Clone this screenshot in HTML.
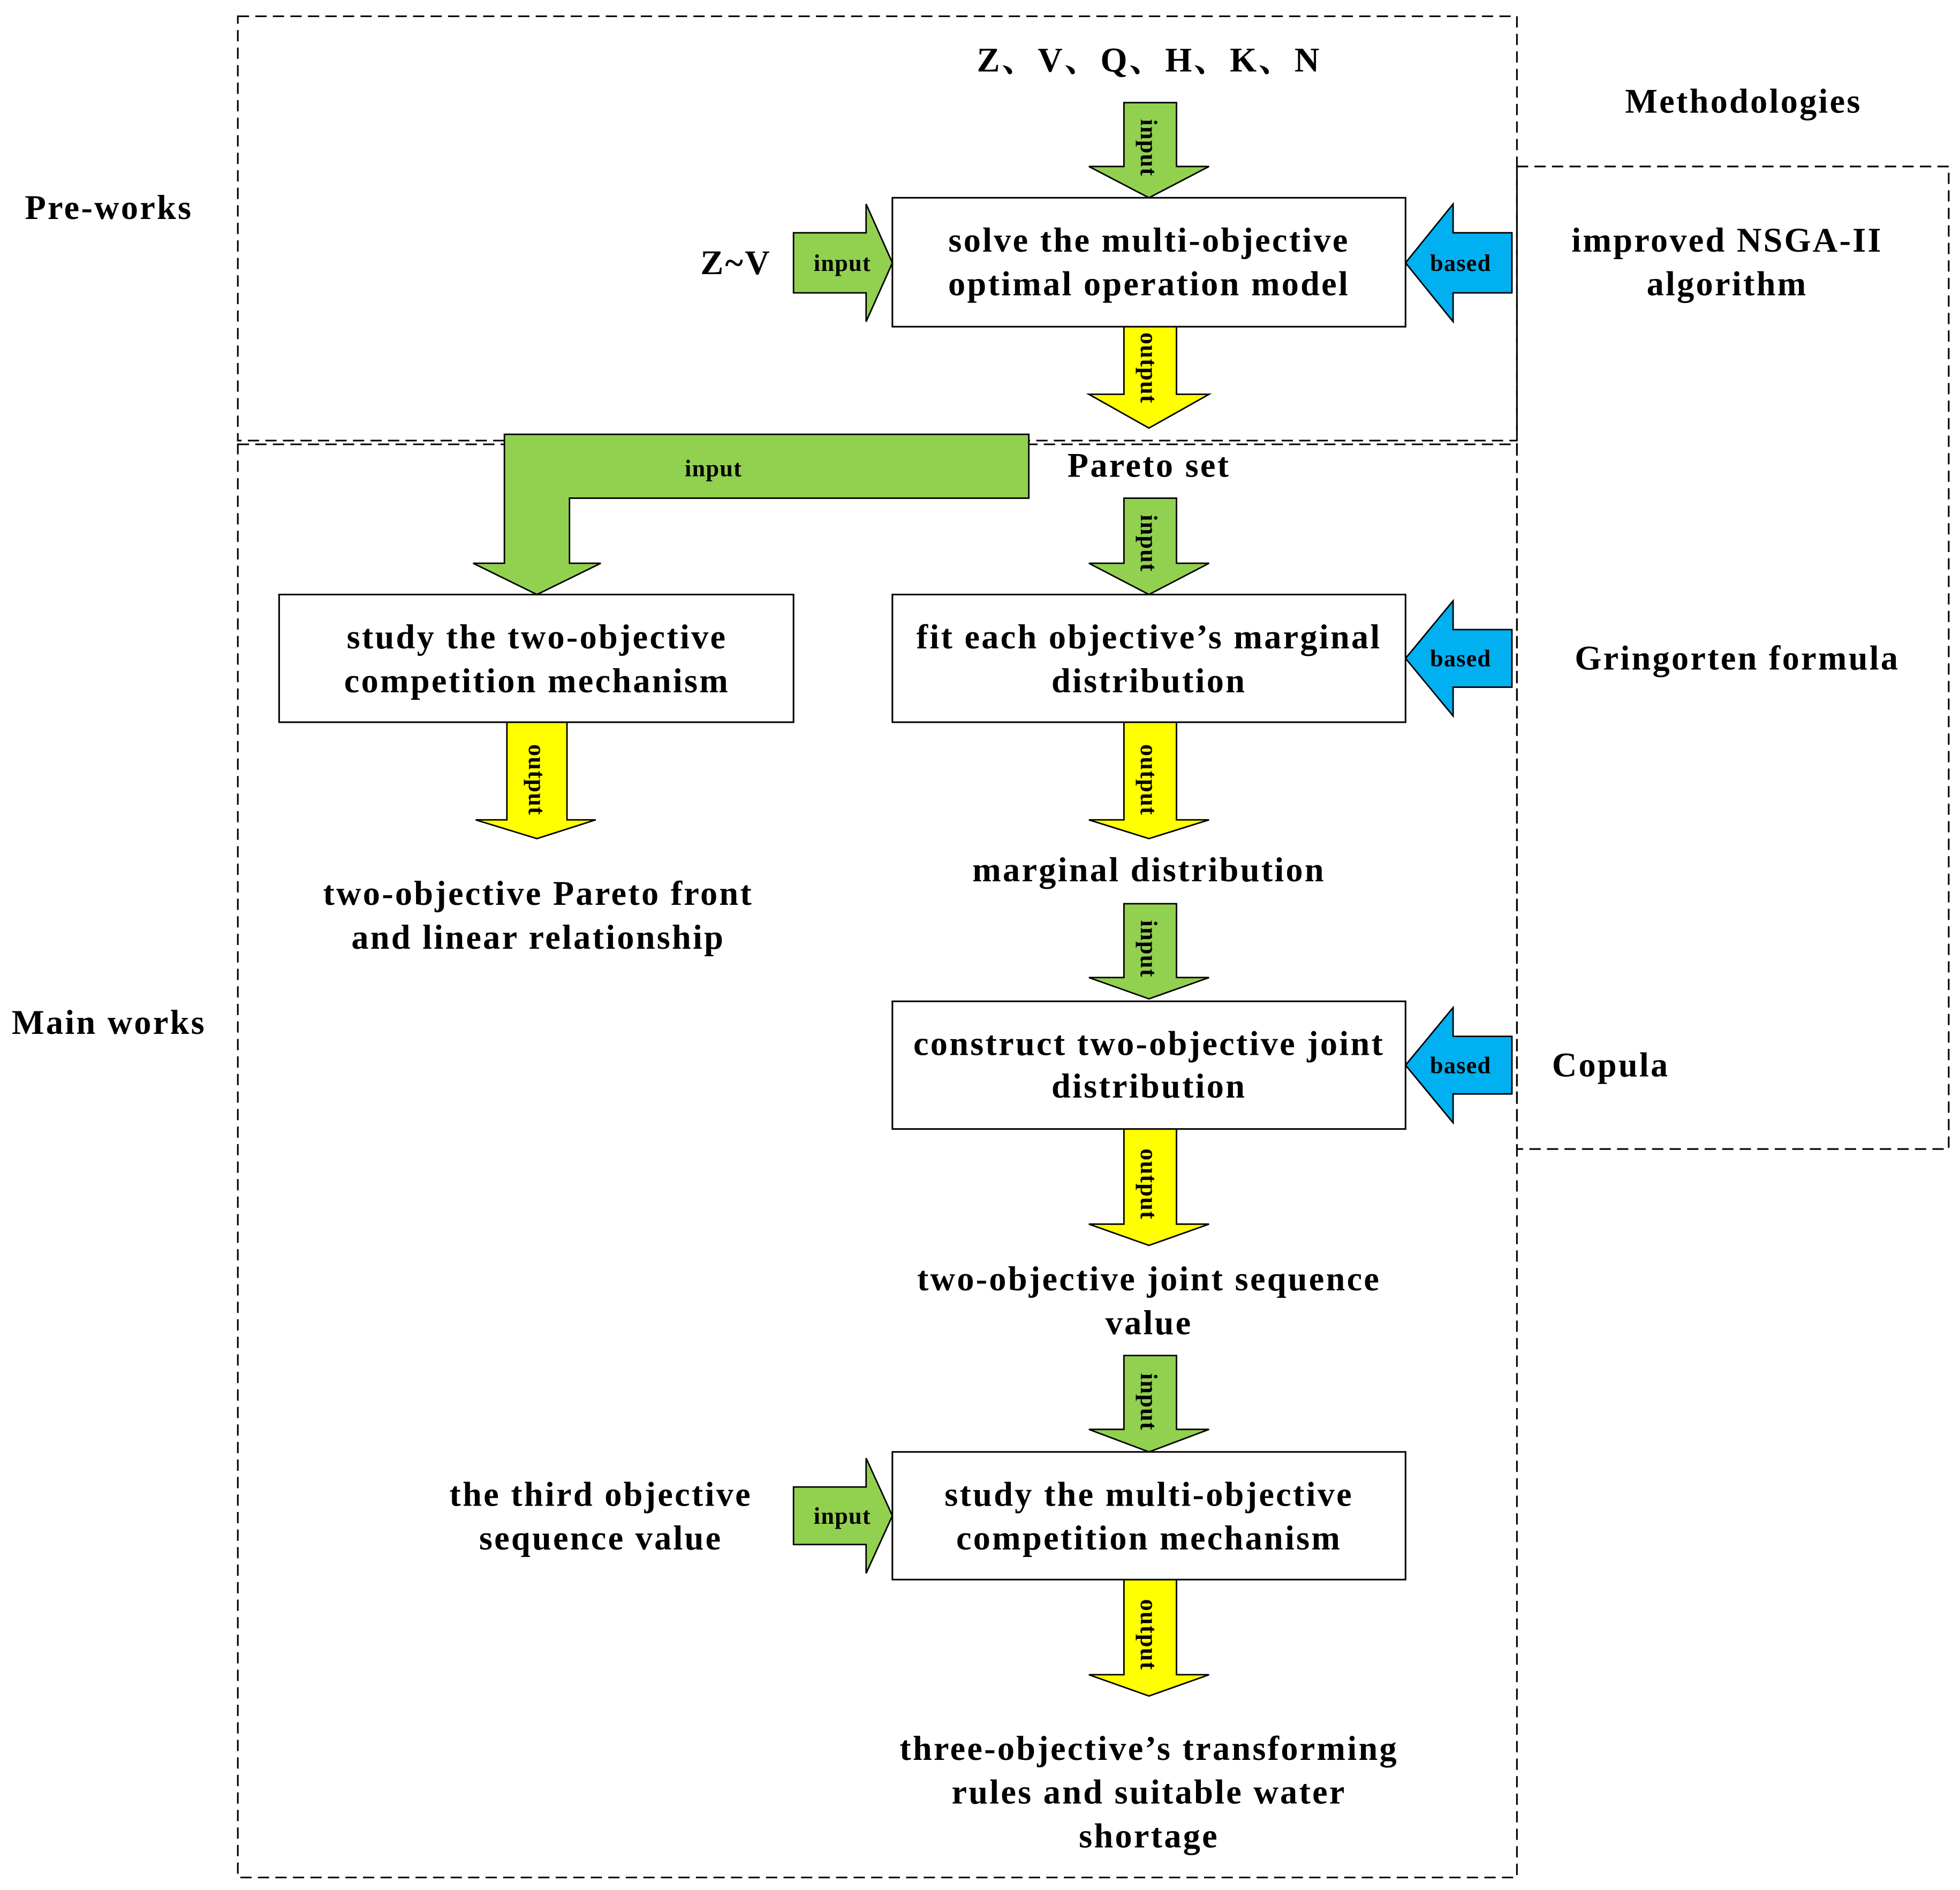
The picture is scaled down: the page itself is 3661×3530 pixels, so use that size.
<!DOCTYPE html>
<html><head><meta charset="utf-8"><style>
html,body{margin:0;padding:0;background:#fff;}
svg{display:block;}
text{font-family:"Liberation Serif","Noto Serif CJK SC",serif;font-weight:bold;fill:#000;}
.t{font-size:27.5px;text-anchor:middle;letter-spacing:1.4px;}
.a{font-size:19px;text-anchor:middle;dominant-baseline:central;letter-spacing:0.5px;}
.d{fill:none;stroke:#000;stroke-width:1.3;stroke-dasharray:9,5;}
.b{fill:#fff;stroke:#000;stroke-width:1.3;}
.g{fill:#92d050;stroke:#000;stroke-width:1.2;}
.y{fill:#ffff00;stroke:#000;stroke-width:1.2;}
.c{fill:#00b0f0;stroke:#000;stroke-width:1.2;}
</style></head><body>
<svg width="3661" height="3530" viewBox="0 0 1566 1510" xmlns="http://www.w3.org/2000/svg">
<rect x="190" y="13" width="1022" height="339" class="d"/>
<rect x="190" y="355" width="1022" height="1145" class="d"/>
<rect x="1212" y="133" width="345" height="785" class="d"/>

<text x="87" y="175" class="t">Pre-works</text>
<text x="87" y="826" class="t">Main works</text>
<text x="1393" y="90" class="t">Methodologies</text>
<text x="918" y="57" class="t">Z、V、Q、H、K、N</text>

<path class="g" d="M898,82 H940 V133 H966 L918,158 L870,133 H898 Z"/>
<text class="a" transform="translate(918,118) rotate(90)">input</text>
<path class="y" d="M898,261 H940 V315 H966 L918,342 L870,315 H898 Z"/>
<text class="a" transform="translate(918,294) rotate(90)">output</text>
<path class="g" d="M403,347 H822 V398 H455 V450 H480 L429,475 L378,450 H403 Z"/>
<text x="570" y="374" class="a">input</text>
<path class="g" d="M898,398 H940 V450 H966 L918,475 L870,450 H898 Z"/>
<text class="a" transform="translate(918,434) rotate(90)">input</text>
<path class="y" d="M405,577 H453 V655 H476 L429,670 L380,655 H405 Z"/>
<text class="a" transform="translate(429,623) rotate(90)">output</text>
<path class="y" d="M898,577 H940 V655 H966 L918,670 L870,655 H898 Z"/>
<text class="a" transform="translate(918,623) rotate(90)">output</text>
<path class="g" d="M898,722 H940 V781 H966 L918,798 L870,781 H898 Z"/>
<text class="a" transform="translate(918,758) rotate(90)">input</text>
<path class="y" d="M898,902 H940 V978 H966 L918,995 L870,978 H898 Z"/>
<text class="a" transform="translate(918,946) rotate(90)">output</text>
<path class="g" d="M898,1083 H940 V1142 H966 L918,1160 L870,1142 H898 Z"/>
<text class="a" transform="translate(918,1120) rotate(90)">input</text>
<path class="y" d="M898,1262 H940 V1338 H966 L918,1355 L870,1338 H898 Z"/>
<text class="a" transform="translate(918,1306) rotate(90)">output</text>
<path class="g" d="M634,186 H692 V163 L713,210 L692,257 V234 H634 Z"/>
<text x="673" y="210" class="a">input</text>
<path class="g" d="M634,1188 H692 V1165 L713,1211 L692,1257 V1234 H634 Z"/>
<text x="673" y="1211" class="a">input</text>
<path class="c" d="M1208,186 H1161 V163 L1123,210 L1161,257 V234 H1208 Z"/>
<text x="1167" y="210" class="a">based</text>
<path class="c" d="M1208,503 H1161 V480 L1123,526 L1161,572 V549 H1208 Z"/>
<text x="1167" y="526" class="a">based</text>
<path class="c" d="M1208,828 H1161 V805 L1123,851 L1161,897 V874 H1208 Z"/>
<text x="1167" y="851" class="a">based</text>

<rect x="713" y="158" width="410" height="103" class="b"/>
<text x="918" y="201" class="t">solve the multi-objective</text>
<text x="918" y="236" class="t">optimal operation model</text>
<text x="588" y="219" class="t">Z~V</text>

<text x="918" y="381" class="t">Pareto set</text>

<rect x="223" y="475" width="411" height="102" class="b"/>
<text x="429" y="518" class="t">study the two-objective</text>
<text x="429" y="553" class="t">competition mechanism</text>
<rect x="713" y="475" width="410" height="102" class="b"/>
<text x="918" y="518" class="t">fit each objective’s marginal</text>
<text x="918" y="553" class="t">distribution</text>

<text x="430" y="723" class="t">two-objective Pareto front</text>
<text x="430" y="758" class="t">and linear relationship</text>
<text x="918" y="704" class="t">marginal distribution</text>

<rect x="713" y="800" width="410" height="102" class="b"/>
<text x="918" y="843" class="t">construct two-objective joint</text>
<text x="918" y="877" class="t">distribution</text>
<text x="918" y="1031" class="t">two-objective joint sequence</text>
<text x="918" y="1066" class="t">value</text>

<rect x="713" y="1160" width="410" height="102" class="b"/>
<text x="918" y="1203" class="t">study the multi-objective</text>
<text x="918" y="1238" class="t">competition mechanism</text>
<text x="480" y="1203" class="t">the third objective</text>
<text x="480" y="1238" class="t">sequence value</text>
<text x="918" y="1406" class="t">three-objective’s transforming</text>
<text x="918" y="1441" class="t">rules and suitable water</text>
<text x="918" y="1476" class="t">shortage</text>

<text x="1380" y="201" class="t">improved NSGA-II</text>
<text x="1380" y="236" class="t">algorithm</text>
<text x="1388" y="535" class="t">Gringorten formula</text>
<text x="1240" y="860" class="t" style="text-anchor:start">Copula</text>
</svg>
</body></html>
